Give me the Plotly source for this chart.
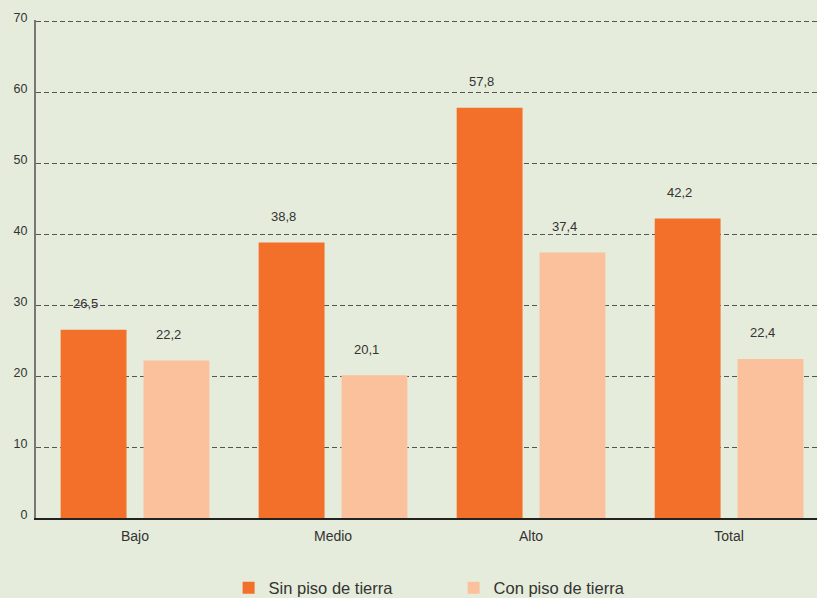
import plotly.graph_objects as go

categories = ["Bajo", "Medio", "Alto", "Total"]
sin_piso = [26.5, 38.8, 57.8, 42.2]
con_piso = [22.2, 20.1, 37.4, 22.4]
series_names = ["Sin piso de tierra", "Con piso de tierra"]
y_ticks = [0, 10, 20, 30, 40, 50, 60, 70]

BG = "#E6ECDB"
ORANGE = "#F3702B"
PEACH = "#FAC19C"

fig = go.Figure()
fig.add_trace(go.Bar(x=categories, y=sin_piso, name=series_names[0],
                     marker=dict(color=ORANGE, line=dict(width=0))))
fig.add_trace(go.Bar(x=categories, y=con_piso, name=series_names[1],
                     marker=dict(color=PEACH, line=dict(width=0))))

def fmt(v):
    return f"{v:.1f}".replace(".", ",")

for vals, off in [(sin_piso, -0.209), (con_piso, 0.209)]:
    for c, v in zip(categories, vals):
        fig.add_annotation(x=c, y=v, text=fmt(v), showarrow=False,
                           xshift=off * 198.3 - 8, yshift=26,
                           yanchor="middle", xanchor="center",
                           font=dict(family="Liberation Sans, Arial", size=13, color="#333"))

fig.update_layout(
    width=817, height=598,
    paper_bgcolor=BG, plot_bgcolor=BG,
    margin=dict(l=36, r=0, t=20, b=80, autoexpand=False),
    barmode="group", bargap=0.163, bargroupgap=0.205,
    font=dict(family="Liberation Sans, Arial", size=12, color="#333"),
    showlegend=True,
    legend=dict(orientation="h", x=0.2466, xanchor="left",
                yref="container", y=0.0167, yanchor="middle",
                font=dict(size=16.5, color="#333"), entrywidth=180, entrywidthmode="pixels",
                itemwidth=30, bgcolor="rgba(0,0,0,0)"),
)
fig.update_xaxes(range=[-0.5, 3.444], showgrid=False, showline=True, linecolor="#222",
                 linewidth=1.5, ticks="", ticklabelstandoff=4,
                 tickfont=dict(size=14, color="#333"))
fig.update_yaxes(range=[0, 70.15], tickvals=y_ticks, showgrid=True, gridcolor="#555",
                 griddash="5px,3px", gridwidth=1, zeroline=False, showline=True,
                 linecolor="#777", linewidth=2, ticks="", ticklabelstandoff=4,
                 ticklabelshift=-3, tickfont=dict(size=12.5, color="#333"))

fig.write_html("out.html", config={"displayModeBar": False},
               post_script="document.body.style.margin='0';document.body.style.overflow='hidden';")
